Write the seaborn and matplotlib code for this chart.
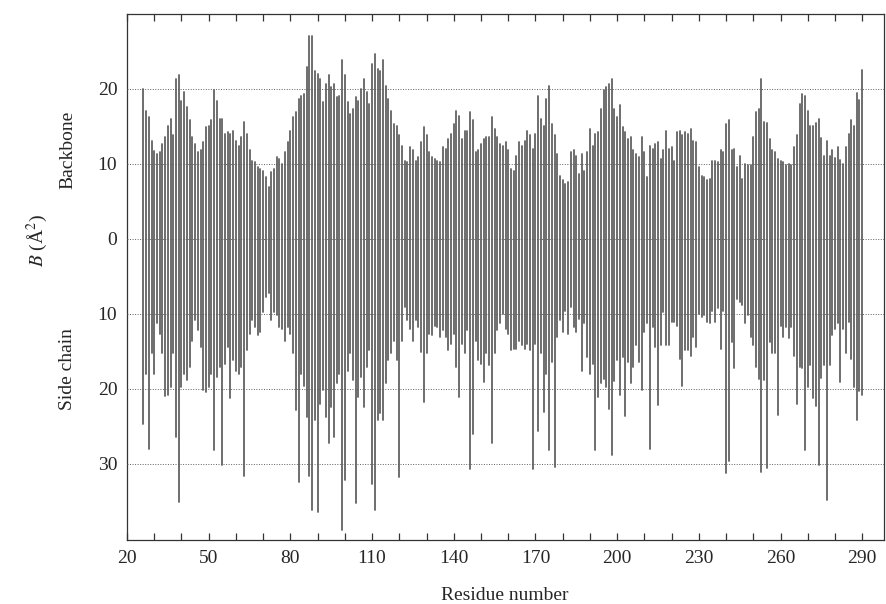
import numpy as np
import pandas as pd
import matplotlib
matplotlib.use("Agg")
import matplotlib.pyplot as plt
import seaborn as sns

# 残基番号 26-290
residue = np.arange(26, 291)

# backbone B 値 (上向き)
backbone = np.array([
    20.0, 17.0, 16.2, 13.1, 11.7, 11.3, 11.6, 12.7, 13.6, 15.1, 16.0, 13.8, 21.3, 21.8, 18.4, 19.6, 17.6,
    15.8, 13.6, 12.7, 11.6, 11.8, 12.9, 14.9, 15.1, 15.8, 19.8, 18.4, 16.0, 16.0, 14.0, 14.2, 14.0,
    14.4, 13.1, 12.4, 13.6, 15.6, 14.0, 11.8, 10.4, 10.2, 9.6, 9.3, 9.1, 8.2, 6.9, 8.9, 9.3, 10.9,
    10.7, 10.0, 11.6, 12.9, 14.4, 16.2, 16.9, 18.7, 19.1, 19.3, 22.9, 27.1, 27.1, 22.4, 22.0, 21.3,
    18.2, 20.7, 21.8, 20.2, 20.7, 18.9, 19.1, 23.8, 21.8, 18.2, 16.7, 17.3, 18.9, 18.4, 20.0, 21.3,
    19.6, 18.0, 23.3, 24.7, 22.7, 22.4, 23.8, 20.4, 18.7, 17.1, 15.3, 15.1, 13.8, 12.4, 10.4, 10.2,
    12.2, 11.8, 10.4,
    10.9, 12.9, 14.9, 13.8, 11.6, 10.9, 10.7, 10.4, 10.2, 12.2, 12.0, 13.3, 14.0, 15.3, 17.1, 16.4,
    13.3, 14.4, 14.4, 16.9, 15.8, 11.6, 11.8, 12.7, 13.3, 13.6, 13.6, 16.2, 14.7, 13.6, 12.7, 12.4,
    12.9, 11.8,
    9.3, 9.1, 11.1, 12.9, 12.4, 13.1, 14.4, 13.8, 12.0, 14.0, 19.1, 16.0, 15.1, 18.7, 20.4, 15.3,
    13.8, 11.3, 8.4, 7.8, 7.3, 7.6, 11.6, 11.8, 11.1, 8.7, 11.3, 9.1, 11.6, 14.7, 12.4, 14.0, 14.2, 17.3,
    19.8, 20.2, 20.7, 21.3, 17.3, 16.2, 17.8, 14.9, 14.2, 13.3, 13.6, 11.8, 11.3, 10.9, 13.6, 11.6,
    8.2, 12.4, 12.0, 12.7, 12.9, 10.7, 11.8, 14.4, 12.0, 12.2, 10.4, 14.2, 14.4, 13.8, 14.2, 14.0, 14.7, 13.1,
    12.9, 9.6, 8.4, 8.2, 7.8, 8.0, 10.4, 10.4, 10.2, 11.8, 11.6, 15.3, 15.8, 11.8, 12.0, 9.6, 11.1,
    8.0, 10.0, 9.8, 9.8, 13.6, 16.9, 17.3, 21.3, 15.6, 15.5, 13.3, 11.8, 11.6, 10.7, 10.4, 10.2, 9.8,
    10.0, 9.8, 12.3, 13.8, 18.0, 19.3, 19.0, 17.0, 15.0, 15.0, 15.5, 16.0, 13.5, 11.0, 13.0, 11.0,
    11.8, 10.8, 12.3, 10.5, 10.0, 12.3, 14.0, 15.8, 15.0, 19.5, 18.5, 22.5,
])

# side chain B 値 (下向き, 絶対値)
side_chain = np.array([
    24.7, 18.0, 28.0, 15.3, 18.0, 11.3, 12.7, 15.3, 21.0, 20.9, 19.8, 15.3, 26.4, 35.1, 19.8, 18.0,
    18.9, 17.1, 13.6, 10.9, 12.2, 14.4, 20.2, 20.4, 19.8, 18.0, 28.2, 18.4, 17.1, 30.2, 16.7, 14.4, 21.3,
    16.2, 17.6, 18.0, 17.1, 31.6, 14.9, 12.7, 10.9, 11.8, 12.9, 12.4, 9.8, 7.8, 7.3, 10.9, 9.8, 10.2,
    11.8, 12.0, 13.6, 11.8, 12.7, 15.3, 22.9, 32.4, 18.0, 19.6, 23.8, 31.6, 36.2, 24.2, 36.4, 22.0,
    20.2, 23.8, 27.3, 22.4, 26.4, 19.3, 18.0, 38.9, 32.2, 17.6, 15.3, 18.9, 35.3, 21.1, 18.4, 22.4,
    17.1, 14.9, 32.7, 36.2, 24.2, 23.3, 24.2, 19.3, 16.2, 15.3, 13.6, 16.2, 31.8, 13.6, 9.1, 10.9,
    12.0, 13.6, 10.9,
    11.8, 15.1, 21.8, 15.3, 12.7, 12.9, 11.6, 11.8, 13.1, 12.2, 13.1, 14.9, 14.0, 12.7, 17.1, 21.1,
    14.0, 15.3, 12.2, 30.7, 26.0, 13.6, 16.2, 16.7, 19.1, 15.3, 16.9, 27.3, 15.3, 12.2, 11.3, 10.0,
    12.0, 12.7,
    14.9, 14.7, 14.7, 13.6, 14.2, 14.7, 14.0, 14.9, 30.7, 14.0, 25.6, 15.3, 23.1, 18.0, 28.2, 16.4,
    30.4, 13.1, 10.9, 12.4, 9.6, 12.7, 9.1, 11.8, 12.4, 10.7, 17.6, 11.3, 15.8, 18.0, 16.7, 28.2, 21.1, 19.3,
    18.7, 19.8, 22.7, 28.9, 19.0, 16.2, 20.9, 15.8, 23.6, 16.4, 19.3, 17.1, 14.2, 16.4, 20.2, 12.4,
    11.3, 28.0, 11.8, 14.4, 22.2, 14.2, 9.8, 14.2, 14.2, 11.1, 11.1, 11.6, 16.0, 19.6, 14.9, 14.9, 15.6, 13.1,
    14.4, 10.0, 10.4, 10.2, 11.1, 11.3, 9.6, 11.1, 9.3, 14.7, 9.6, 31.3, 29.6, 13.8, 17.3, 8.0, 8.4,
    8.9, 11.3, 10.2, 13.1, 14.2, 17.1, 18.7, 31.1, 18.9, 30.6, 13.8, 15.3, 15.3, 23.5, 11.6, 13.1, 11.8,
    13.3, 11.8, 15.6, 22.0, 17.1, 17.3, 28.2, 19.8, 16.8, 21.3, 22.3, 30.2, 18.6, 16.8, 34.8, 16.8,
    12.8, 12.1, 11.3, 19.1, 12.1, 15.3, 11.1, 16.1, 19.8, 24.2, 20.3, 20.8,
])

grid_levels = [20, 10, 0, -10, -20, -30]
grid_labels = ["20", "10", "0", "10", "20", "30"]
x_ticks = list(range(20, 291, 10))

# 각 잔기를 위/아래 두 점으로
df = pd.DataFrame({
    "residue": np.concatenate([residue, residue]),
    "B": np.concatenate([backbone, -side_chain]),
})

sns.set_style("ticks")
plt.rcParams["font.family"] = ["Liberation Serif", "DejaVu Serif"]
plt.rcParams["mathtext.fontset"] = "stix"

fig = plt.figure(figsize=(8.86, 6.04), dpi=100)
ax = fig.add_axes([127 / 886, 64 / 604, 757 / 886, 526 / 604])

sns.lineplot(data=df, x="residue", y="B", units="residue", estimator=None,
             color="#626262", lw=1.3, ax=ax, legend=False)

for v in grid_levels:
    ax.axhline(v, color="#5f5f5f", lw=0.7, ls=(0, (1, 1.6)), zorder=3)

ax.set_xlim(20, 298)
ax.set_ylim(-40.2, 30)
ax.set_xticks(x_ticks)
ax.set_xticklabels([str(t) if (t - 20) % 30 == 0 else "" for t in x_ticks])
ax.set_yticks(grid_levels)
ax.set_yticklabels(grid_labels)
ax.tick_params(axis="x", direction="in", top=True, length=5, width=0.9,
               labelsize=14, pad=7, color="#333333")
ax.tick_params(axis="y", length=0, labelsize=14, pad=7)
ax.set_xlabel("")
ax.set_ylabel("")
for s in ax.spines.values():
    s.set_visible(True)
    s.set_linewidth(0.9)
    s.set_color("#333333")

fig.text(505 / 886, 1 - 596 / 604, "Residue number", ha="center", va="center", fontsize=14)
fig.text(37 / 886, 1 - 240 / 604, r"$B$ (Å$^2$)", ha="center", va="center",
         rotation=90, fontsize=14)
fig.text(68 / 886, 1 - 150 / 604, "Backbone", ha="center", va="center", rotation=90, fontsize=14)
fig.text(68 / 886, 1 - 369 / 604, "Side chain", ha="center", va="center", rotation=90, fontsize=14)

fig.savefig("out.png", dpi=100)
